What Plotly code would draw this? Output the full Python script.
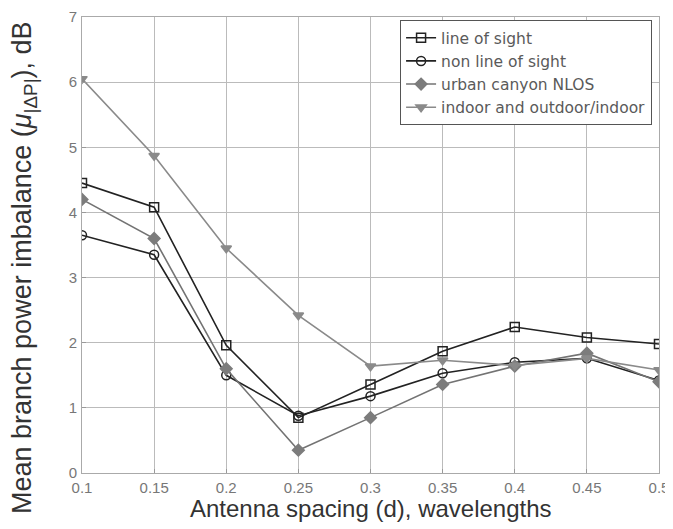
import plotly.graph_objects as go

spacing = [0.1, 0.15, 0.2, 0.25, 0.3, 0.35, 0.4, 0.45, 0.5]
los = [4.45, 4.08, 1.96, 0.85, 1.36, 1.87, 2.24, 2.08, 1.98]
nlos = [3.65, 3.35, 1.5, 0.88, 1.18, 1.53, 1.7, 1.76, 1.42]
urban = [4.2, 3.6, 1.6, 0.35, 0.85, 1.36, 1.64, 1.84, 1.4]
indoor = [6.05, 4.87, 3.45, 2.42, 1.64, 1.73, 1.65, 1.76, 1.58]

names = ["line of sight", "non line of sight", "urban canyon NLOS", "indoor and outdoor/indoor"]
xticks = [0.1, 0.15, 0.2, 0.25, 0.3, 0.35, 0.4, 0.45, 0.5]
xticklabels = ["0.1", "0.15", "0.2", "0.25", "0.3", "0.35", "0.4", "0.45", "0.5"]
yticks = [0, 1, 2, 3, 4, 5, 6, 7]
xtitle = "Antenna spacing (d), wavelengths"
ytitle = "Mean branch power imbalance (<i>μ</i><sub>|ΔP|</sub>), dB"

fig = go.Figure()
styles = [
    dict(color="#222222", symbol="square-open", mcolor="#222222"),
    dict(color="#222222", symbol="circle-open", mcolor="#222222"),
    dict(color="#737373", symbol="diamond", mcolor="#7c7c7c"),
    dict(color="#8a8a8a", symbol="triangle-down", mcolor="#8a8a8a"),
]
for name, vals, st in zip(names, [los, nlos, urban, indoor], styles):
    fig.add_trace(go.Scatter(
        x=spacing, y=vals, name=name, mode="lines+markers",
        line=dict(color=st["color"], width=1.6),
        marker=dict(symbol=st["symbol"], size=9, color=st["mcolor"],
                    line=dict(color=st["mcolor"], width=1.5)),
    ))

# page body has an 8px default margin, so the figure is drawn 8px in from the corner
fig.update_layout(
    width=665, height=521,
    margin=dict(l=74, r=14, t=9, b=56),
    paper_bgcolor="white", plot_bgcolor="white",
    font=dict(family="Liberation Sans, Arial, sans-serif", color="#444444"),
    showlegend=True,
    legend=dict(x=0.988, xanchor="right", y=0.993, yanchor="top",
                bgcolor="white", bordercolor="#555555", borderwidth=1,
                font=dict(size=15.5, color="#5a5a5a", family="DejaVu Sans"),
                tracegroupgap=0, itemwidth=30),
    annotations=[
        dict(text=xtitle, xref="paper", yref="paper", x=0.5, y=-35 / 456,
             xanchor="center", yanchor="middle", showarrow=False,
             font=dict(size=24, color="#333333")),
        dict(text=ytitle, xref="paper", yref="paper", x=-58 / 577, y=205 / 456,
             xanchor="center", yanchor="middle", showarrow=False, textangle=-90,
             font=dict(size=27, color="#333333")),
    ],
)
fig.update_xaxes(
    range=[0.1, 0.5], tickvals=xticks, ticktext=xticklabels, automargin=False,
    showgrid=True, gridcolor="#bbbbbb", gridwidth=1, ticklabeloverflow="allow",
    showline=True, linecolor="#aaaaaa", mirror=True, zeroline=False,
    ticks="inside", ticklen=4, tickcolor="#999999", ticklabelstandoff=1,
    tickfont=dict(size=15, color="#777777"),
)
fig.update_yaxes(
    range=[0, 7], tickvals=yticks, automargin=False, ticklabelstandoff=1,
    showgrid=True, gridcolor="#bbbbbb", gridwidth=1, ticklabeloverflow="allow",
    showline=True, linecolor="#aaaaaa", mirror=True, zeroline=False,
    ticks="inside", ticklen=4, tickcolor="#999999",
    tickfont=dict(size=15, color="#777777"),
)

fig.write_html("out.html")
